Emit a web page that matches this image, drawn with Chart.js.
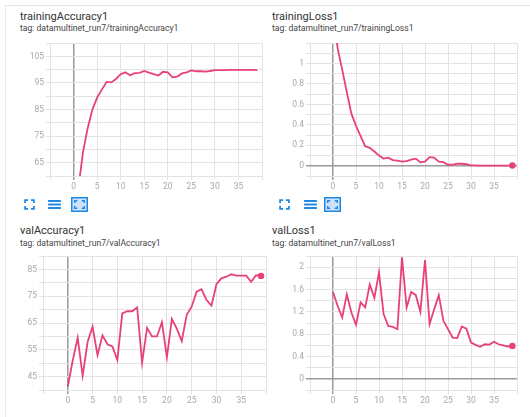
<!DOCTYPE html>
<html>
<head>
<meta charset="utf-8">
<script src="https://cdn.jsdelivr.net/npm/chart.js@4.4.0/dist/chart.umd.min.js"></script>
<style>
  body { margin: 0; background: #fff; font-family: Roboto, sans-serif; }
  #page { position: relative; width: 530px; height: 417px; overflow: hidden; }
  .frame { position: absolute; left: 5px; top: 5px; width: 540px; height: 430px; border-top: 1px solid #e4e4e4; border-left: 1px solid #ececec; }
  .title { position: absolute; font-size: 11px; line-height: 13px; color: #333; white-space: nowrap; }
  .tag { position: absolute; font-size: 8.6px; line-height: 10px; color: #444; white-space: nowrap; }
  canvas { position: absolute; }
  svg { position: absolute; }
</style>
</head>
<body>
<div id="page">
  <div class="frame"></div>

  <div class="title" style="left:20px; top:10px">trainingAccuracy1</div>
  <div class="tag" style="left:20px; top:23px">tag: datamultinet_run7/trainingAccuracy1</div>
  <div class="title" style="left:272px; top:10px">trainingLoss1</div>
  <div class="tag" style="left:272px; top:23px">tag: datamultinet_run7/trainingLoss1</div>
  <div class="title" style="left:20px; top:224px">valAccuracy1</div>
  <div class="tag" style="left:20px; top:238px">tag: datamultinet_run7/valAccuracy1</div>
  <div class="title" style="left:272px; top:224px">valLoss1</div>
  <div class="tag" style="left:272px; top:238px">tag: datamultinet_run7/valLoss1</div>

  <canvas id="trainAcc" width="258" height="160" style="left:8px; top:36px"></canvas>
  <canvas id="trainLoss" width="258" height="160" style="left:268px; top:36px"></canvas>
  <canvas id="valAcc" width="270" height="160" style="left:0px; top:249px"></canvas>
  <canvas id="valLoss" width="258" height="160" style="left:268px; top:249px"></canvas>

  <!-- panel toolbar icons -->
  <svg style="left:21px; top:196px" width="17" height="17" viewBox="0 0 24 24"><path fill="#1e88e5" d="M7 14H4.5v5.5H10V17H7v-3zm-2.5-4H7V7h3V4.5H4.5V10zM17 17h-3v2.5h5.5V14H17v3zM14 4.5V7h3v3h2.5V4.5H14z"/></svg>
  <svg style="left:46px; top:196px" width="17" height="17" viewBox="0 0 24 24"><path fill="#1e88e5" d="M3 18.5h18v-3H3v3zm0-5h18v-3H3v3zm0-8v3h18v-3H3z"/></svg>
  <svg style="left:71px; top:197px" width="17" height="15" viewBox="0 0 17 15"><rect x="0.75" y="0.75" width="15.5" height="13.5" fill="#cfe2fb" stroke="#1e88e5" stroke-width="1.5"/><path fill="#1e88e5" d="M3 3h3.2v1.4H4.4V6H3zM14 3v3h-1.4V4.4h-1.8V3zM3 12V9h1.4v1.6h1.8V12zM14 12h-3.2v-1.4h1.8V9H14z"/></svg>

  <svg style="left:276px; top:196px" width="17" height="17" viewBox="0 0 24 24"><path fill="#1e88e5" d="M7 14H4.5v5.5H10V17H7v-3zm-2.5-4H7V7h3V4.5H4.5V10zM17 17h-3v2.5h5.5V14H17v3zM14 4.5V7h3v3h2.5V4.5H14z"/></svg>
  <svg style="left:302px; top:196px" width="17" height="17" viewBox="0 0 24 24"><path fill="#1e88e5" d="M3 18.5h18v-3H3v3zm0-5h18v-3H3v3zm0-8v3h18v-3H3z"/></svg>
  <svg style="left:324px; top:197px" width="17" height="15" viewBox="0 0 17 15"><rect x="0.75" y="0.75" width="15.5" height="13.5" fill="#cfe2fb" stroke="#1e88e5" stroke-width="1.5"/><path fill="#1e88e5" d="M3 3h3.2v1.4H4.4V6H3zM14 3v3h-1.4V4.4h-1.8V3zM3 12V9h1.4v1.6h1.8V12zM14 12h-3.2v-1.4h1.8V9H14z"/></svg>
</div>

<script>
// epochs (x values) and the labelled x ticks
const epochs = [0, 1, 2, 3, 4, 5, 6, 7, 8, 9, 10, 11, 12, 13, 14, 15, 16, 17, 18, 19,
  20, 21, 22, 23, 24, 25, 26, 27, 28, 29, 30, 31, 32, 33, 34, 35, 36, 37, 38, 39];
const xTickLabels = [0, 5, 10, 15, 20, 25, 30, 35];

const trainingAccuracy = [40, 55, 69, 78, 85, 89.5, 92.5, 95.4, 95.2, 96.5,
  98.3, 99.0, 97.9, 98.7, 98.8, 99.5, 98.9, 98.3, 97.8, 99.2,
  99.0, 97.1, 97.4, 98.6, 99.0, 99.7, 99.4, 99.4, 99.3, 99.5,
  99.8, 99.8, 99.8, 99.9, 99.9, 99.9, 99.9, 99.9, 99.9, 99.8];
const trainingAccuracyTicks = [65, 75, 85, 95, 105];

const trainingLoss = [1.55, 1.15, 0.94, 0.72, 0.51, 0.39, 0.29, 0.19, 0.175, 0.14,
  0.1, 0.07, 0.08, 0.055, 0.05, 0.04, 0.045, 0.06, 0.07, 0.035,
  0.04, 0.085, 0.08, 0.04, 0.035, 0.01, 0.012, 0.02, 0.02, 0.015,
  0.003, 0.003, 0.002, 0.002, 0.002, 0.002, 0.002, 0.002, 0.002, 0.003];
const trainingLossTicks = [0, 0.2, 0.4, 0.6, 0.8, 1];

const valAccuracy = [41.3, 51, 59.5, 45.3, 57.9, 63.7, 53, 60.4, 57.1, 56.3,
  51.2, 68.6, 69.4, 69.4, 70.8, 50.2, 63.2, 60, 60, 65.3,
  52.2, 66.5, 62.9, 58.3, 68.1, 71.1, 76.7, 77.6, 73.6, 71.5,
  79.5, 81.7, 82.3, 83.2, 82.7, 82.7, 82.7, 80.4, 82.9, 82.6];
const valAccuracyTicks = [45, 55, 65, 75, 85];

const valLoss = [1.556, 1.31, 1.10, 1.515, 1.19, 0.97, 1.37, 1.28, 1.69, 1.45,
  1.91, 1.16, 0.95, 0.93, 0.89, 2.18, 1.28, 1.556, 1.50, 1.20,
  2.13, 0.98, 1.25, 1.50, 1.04, 0.89, 0.74, 0.73, 0.94, 0.90,
  0.65, 0.61, 0.575, 0.62, 0.615, 0.665, 0.62, 0.60, 0.58, 0.59];
const valLossTicks = [0, 0.4, 0.8, 1.2, 1.6, 2];

const LINE = "#e8407a";
const GRID = "#e3e3e3";
const ZERO = "#9a9a9a";
const TICK = "#a8a8a8";

function drawPanel(id, values, yTicks, y, box, showDot) {
  new Chart(document.getElementById(id), {
    type: "line",
    data: {
      datasets: [{
        data: values.map((v, i) => ({ x: epochs[i], y: v })),
        borderColor: LINE,
        borderWidth: 1.8,
        tension: 0,
        clip: 0,
        pointRadius: (c) => (showDot && c.dataIndex === values.length - 1 ? 3.2 : 0),
        pointBackgroundColor: LINE,
        pointBorderWidth: 0,
      }],
    },
    options: {
      responsive: false,
      animation: false,
      events: [],
      layout: { padding: { top: box.top, right: box.right, left: 0, bottom: 0 } },
      plugins: { legend: { display: false }, tooltip: { enabled: false } },
      scales: {
        x: {
          type: "linear",
          min: -5,
          max: 40,
          afterFit: (s) => { s.height = box.xh; },
          border: { display: false },
          grid: {
            color: (c) => (c.tick && c.tick.value === 0 ? ZERO : GRID),
            lineWidth: (c) => (c.tick && c.tick.value === 0 ? 1.5 : 1),
            tickLength: 4,
          },
          ticks: {
            stepSize: 5,
            autoSkip: false,
            maxRotation: 0,
            padding: 2,
            color: TICK,
            font: { family: "Roboto", size: 8.5 },
            callback: (v) => (xTickLabels.includes(v) ? String(v) : ""),
          },
        },
        y: {
          min: y.min,
          max: y.max,
          afterFit: (s) => { s.width = box.yw; },
          border: { display: false },
          grid: {
            color: (c) => (c.tick && Math.abs(c.tick.value) < 1e-9 ? ZERO : GRID),
            lineWidth: (c) => (c.tick && Math.abs(c.tick.value) < 1e-9 ? 1.5 : 1),
            tickLength: 4,
          },
          ticks: {
            stepSize: y.step,
            autoSkip: false,
            padding: 2,
            color: TICK,
            font: { family: "Roboto", size: 8.5 },
            callback: (v) => {
              const t = yTicks.find((k) => Math.abs(k - v) < 1e-6);
              return t === undefined ? "" : String(t);
            },
          },
        },
      },
    },
  });
}

drawPanel("trainAcc", trainingAccuracy, trainingAccuracyTicks,
  { min: 60, max: 110, step: 5 }, { top: 6, right: 4, xh: 20, yw: 42 }, false);
drawPanel("trainLoss", trainingLoss, trainingLossTicks,
  { min: -0.1, max: 1.2, step: 0.1 }, { top: 5, right: 9, xh: 20, yw: 42 }, true);
drawPanel("valAcc", valAccuracy, valAccuracyTicks,
  { min: 40, max: 90, step: 5 }, { top: 6, right: 4, xh: 19, yw: 43 }, true);
drawPanel("valLoss", valLoss, valLossTicks,
  { min: -0.2, max: 2.2, step: 0.2 }, { top: 6, right: 9, xh: 19, yw: 42 }, true);
</script>
</body>
</html>
